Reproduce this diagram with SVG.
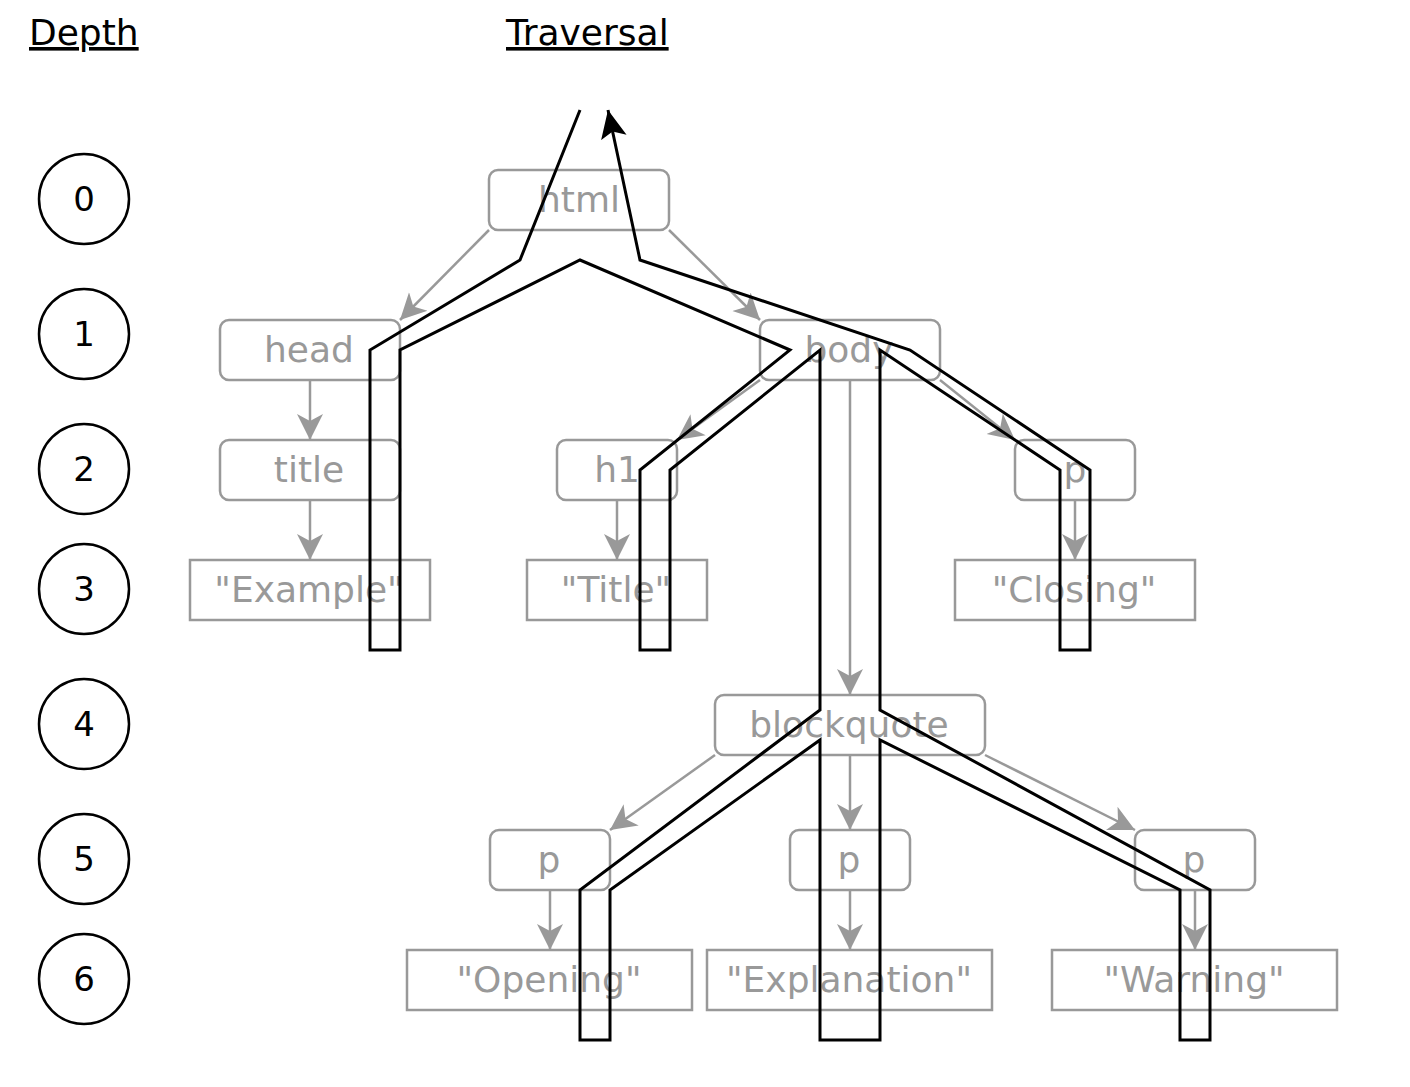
<svg xmlns="http://www.w3.org/2000/svg" width="1410" height="1087" viewBox="0 0 1410 1087">
<style>
.hdr{font-family:"DejaVu Sans",sans-serif;font-size:36px;fill:#000;text-decoration:underline;}
.num{font-family:"DejaVu Sans",sans-serif;font-size:34px;fill:#000;text-anchor:middle;}
.circ{fill:#fff;stroke:#000;stroke-width:2.5;}
.box{fill:#fff;stroke:#999;stroke-width:2.5;}
.lbl{font-family:"DejaVu Sans",sans-serif;font-size:36px;fill:#999;text-anchor:middle;}
.edge{stroke:#999;stroke-width:2.5;fill:none;marker-end:url(#ga);}
.trav{stroke:#000;stroke-width:3;fill:none;stroke-linejoin:miter;}
</style>
<defs>
<marker id="ga" markerUnits="userSpaceOnUse" viewBox="-26 -14 28 28" markerWidth="28" markerHeight="28" refX="0" refY="0" orient="auto">
<path d="M0,0 L-26,-13 L-19,0 L-26,13 Z" fill="#999"/>
</marker>
<marker id="ba" markerUnits="userSpaceOnUse" viewBox="-28 -15 30 30" markerWidth="30" markerHeight="30" refX="0" refY="0" orient="auto">
<path d="M0,0 L-28,-13 L-22,0 L-28,13 Z" fill="#000"/>
</marker>
</defs>
<rect width="1410" height="1087" fill="#fff"/>
<text class="hdr" x="29" y="45">Depth</text>
<text class="hdr" x="506" y="45">Traversal</text>
<g id="depths">
<g id="d0"><circle class="circ" cx="84" cy="199" r="45"/><text class="num" x="84" y="211">0</text></g>
<g id="d1"><circle class="circ" cx="84" cy="334" r="45"/><text class="num" x="84" y="346">1</text></g>
<g id="d2"><circle class="circ" cx="84" cy="469" r="45"/><text class="num" x="84" y="481">2</text></g>
<g id="d3"><circle class="circ" cx="84" cy="589" r="45"/><text class="num" x="84" y="601">3</text></g>
<g id="d4"><circle class="circ" cx="84" cy="724" r="45"/><text class="num" x="84" y="736">4</text></g>
<g id="d5"><circle class="circ" cx="84" cy="859" r="45"/><text class="num" x="84" y="871">5</text></g>
<g id="d6"><circle class="circ" cx="84" cy="979" r="45"/><text class="num" x="84" y="991">6</text></g>
</g>
<g id="html"><rect class="box" x="489" y="170" width="180" height="60" rx="9"/><text class="lbl" x="579" y="212">html</text></g>
<g id="head"><rect class="box" x="220" y="320" width="180" height="60" rx="9"/><text class="lbl" x="309" y="362">head</text></g>
<g id="body"><rect class="box" x="760" y="320" width="180" height="60" rx="9"/><text class="lbl" x="849" y="362">body</text></g>
<g id="title"><rect class="box" x="220" y="440" width="180" height="60" rx="9"/><text class="lbl" x="309" y="482">title</text></g>
<g id="h1"><rect class="box" x="557" y="440" width="120" height="60" rx="9"/><text class="lbl" x="617" y="482">h1</text></g>
<g id="p_body"><rect class="box" x="1015" y="440" width="120" height="60" rx="9"/><text class="lbl" x="1075" y="482">p</text></g>
<g id="t_example"><rect class="box" x="190" y="560" width="240" height="60"/><text class="lbl" x="309" y="602">"Example"</text></g>
<g id="t_title"><rect class="box" x="527" y="560" width="180" height="60"/><text class="lbl" x="616" y="602">"Title"</text></g>
<g id="t_closing"><rect class="box" x="955" y="560" width="240" height="60"/><text class="lbl" x="1074" y="602">"Closing"</text></g>
<g id="blockquote"><rect class="box" x="715" y="695" width="270" height="60" rx="9"/><text class="lbl" x="849" y="737">blockquote</text></g>
<g id="p_a"><rect class="box" x="490" y="830" width="120" height="60" rx="9"/><text class="lbl" x="549" y="872">p</text></g>
<g id="p_b"><rect class="box" x="790" y="830" width="120" height="60" rx="9"/><text class="lbl" x="849" y="872">p</text></g>
<g id="p_c"><rect class="box" x="1135" y="830" width="120" height="60" rx="9"/><text class="lbl" x="1194" y="872">p</text></g>
<g id="t_opening"><rect class="box" x="407" y="950" width="285" height="60"/><text class="lbl" x="549" y="992">"Opening"</text></g>
<g id="t_explanation"><rect class="box" x="707" y="950" width="285" height="60"/><text class="lbl" x="849" y="992">"Explanation"</text></g>
<g id="t_warning"><rect class="box" x="1052" y="950" width="285" height="60"/><text class="lbl" x="1194" y="992">"Warning"</text></g>
<g id="connectors">
<line class="edge" x1="489" y1="230" x2="400" y2="320"/>
<line class="edge" x1="669" y1="230" x2="760" y2="320"/>
<line class="edge" x1="310" y1="380" x2="310" y2="440"/>
<line class="edge" x1="310" y1="500" x2="310" y2="560"/>
<line class="edge" x1="760" y1="380" x2="677" y2="440"/>
<line class="edge" x1="850" y1="380" x2="850" y2="695"/>
<line class="edge" x1="940" y1="380" x2="1015" y2="440"/>
<line class="edge" x1="617" y1="500" x2="617" y2="560"/>
<line class="edge" x1="1075" y1="500" x2="1075" y2="560"/>
<line class="edge" x1="715" y1="755" x2="610" y2="830"/>
<line class="edge" x1="850" y1="755" x2="850" y2="830"/>
<line class="edge" x1="985" y1="755" x2="1135" y2="830"/>
<line class="edge" x1="550" y1="890" x2="550" y2="950"/>
<line class="edge" x1="850" y1="890" x2="850" y2="950"/>
<line class="edge" x1="1195" y1="890" x2="1195" y2="950"/>
<polyline class="trav" marker-end="url(#ba)" points="580,110 520,260 370,350 370,650 400,650 400,350 580,260 790,350 640,470 640,650 670,650 670,470 820,350 820,710 580,890 580,1040 610,1040 610,890 820,740 820,1040 880,1040 880,740 1180,890 1180,1040 1210,1040 1210,890 880,710 880,350 1060,470 1060,650 1090,650 1090,470 910,350 640,260 608,110"/>
</g>
</svg>
